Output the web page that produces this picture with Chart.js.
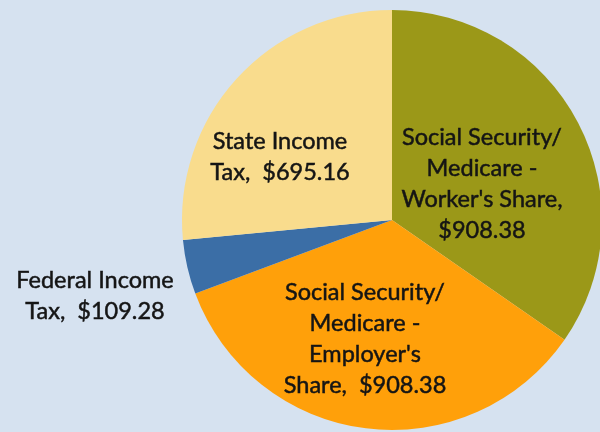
<!DOCTYPE html>
<html>
<head>
<meta charset="utf-8">
<script src="https://cdn.jsdelivr.net/npm/chart.js@4.4.0/dist/chart.umd.min.js"></script>
<style>
  html, body { margin: 0; padding: 0; background: #d6e2f0; }
  #wrap { width: 600px; height: 432px; }
</style>
</head>
<body>
<div id="wrap"><canvas id="pieChart"></canvas></div>
<script>
// Categorias e valores (sentido horário a partir do topo)
const categorias = [
    "Social Security/ Medicare - Worker's Share",
    "Social Security/ Medicare - Employer's Share",
    "Federal Income Tax",
    "State Income Tax"
];
const valores = [908.38, 908.38, 109.28, 695.16];

// Texto dos rótulos, linha a linha
const rotulos = [
    ["Social Security/", "Medicare -", "Worker's Share,", "$908.38"],
    ["Social Security/", "Medicare -", "Employer's", "Share,  $908.38"],
    ["Federal Income", "Tax,  $109.28"],
    ["State Income", "Tax,  $695.16"]
];

const cores = ['#9b9818', '#ffa00a', '#3b6ea6', '#f9dc8d'];

// Posição (centro da primeira linha) de cada rótulo
const posRotulos = [
    { x: 482, y: 137 },
    { x: 365, y: 292 },
    { x: 95, y: 280 },
    { x: 280, y: 141 }
];

const pluginRotulos = {
    id: 'rotulos',
    afterDatasetsDraw(chart) {
        const ctx = chart.ctx;
        ctx.save();
        ctx.font = '23.5px Lato, "Open Sans", sans-serif';
        ctx.fillStyle = '#151515';
        ctx.strokeStyle = '#151515';
        ctx.lineWidth = 0.5;
        ctx.textAlign = 'center';
        ctx.textBaseline = 'middle';
        rotulos.forEach((linhas, i) => {
            const p = posRotulos[i];
            linhas.forEach((txt, j) => {
                ctx.fillText(txt, p.x, p.y + j * 31);
                ctx.strokeText(txt, p.x, p.y + j * 31);
            });
        });
        ctx.restore();
    }
};

new Chart(document.getElementById('pieChart'), {
    type: 'pie',
    data: {
        labels: categorias,
        datasets: [{
            data: valores,
            backgroundColor: cores,
            borderWidth: 0,
            radius: 210,
            clip: false
        }]
    },
    options: {
        responsive: true,
        maintainAspectRatio: false,
        animation: false,
        layout: { padding: { left: 184, right: 0, top: 8, bottom: 0 } },
        plugins: {
            legend: { display: false },
            tooltip: { enabled: false }
        }
    },
    plugins: [pluginRotulos]
});
</script>
</body>
</html>
